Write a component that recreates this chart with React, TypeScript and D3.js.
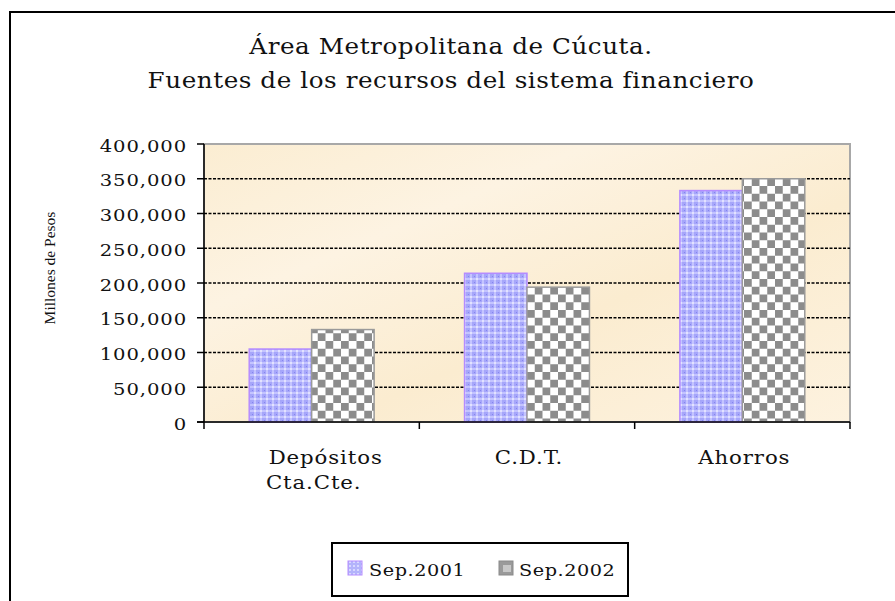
import React from "react";
import * as d3 from "d3";

const categories = ["Depósitos Cta.Cte.", "C.D.T.", "Ahorros"];
const categoryLines = [["Depósitos", "Cta.Cte."], ["C.D.T."], ["Ahorros"]];
const seriesNames = ["Sep.2001", "Sep.2002"];
const sep2001 = [105000, 214000, 333000];
const sep2002 = [133000, 194000, 350000];
const yTicks = [0, 50000, 100000, 150000, 200000, 250000, 300000, 350000, 400000];
const titleLines = ["Área Metropolitana de Cúcuta.", "Fuentes de los recursos del sistema financiero"];

const W = 895;
const H = 601;
const plot = { left: 204, right: 850, top: 144, bottom: 422 };
const serif = "'DejaVu Serif', serif";

function WideText(props: { x: number; y: number; anchor?: string; size: number; sx: number; ls: number; children: React.ReactNode }) {
  const { x, y, anchor = "start", size, sx, ls, children } = props;
  return (
    <text transform={`translate(${x},${y}) scale(${sx},1)`} textAnchor={anchor} fontFamily={serif} fontSize={size} letterSpacing={ls} fill="#111">
      {children}
    </text>
  );
}

export default function App() {
  const x = d3.scaleBand<string>().domain(categories).range([plot.left, plot.right]).paddingInner(0.42).paddingOuter(0.21);
  const x1 = d3.scaleBand<string>().domain(seriesNames).range([0, x.bandwidth()]);
  const y = d3.scaleLinear().domain([0, 400000]).range([plot.bottom, plot.top]);
  const fmt = d3.format(",");
  const series = [sep2001, sep2002];
  const fills = ["url(#bluePat)", "url(#checkPat)"];
  const strokes = ["#b58cff", "#9a9a9a"];
  const bandStep = (plot.right - plot.left) / categories.length;

  return (
    <svg width={W} height={H} style={{ position: "absolute", left: 0, top: 0, background: "#fff" }}>
      <defs>
        <linearGradient id="bg" x1="0" y1="0" x2="1" y2="1">
          <stop offset="0" stopColor="#fbedd2" />
          <stop offset="0.3" stopColor="#fdf3e2" />
          <stop offset="0.6" stopColor="#fbecd0" />
          <stop offset="1" stopColor="#fdf2df" />
        </linearGradient>
        <pattern id="bluePat" width="6" height="6" patternUnits="userSpaceOnUse">
          <rect width="6" height="6" fill="#a6a6fa" />
          <rect x="2" y="0" width="2" height="6" fill="#c4c4ff" />
          <rect x="0" y="2" width="6" height="2" fill="#c4c4ff" />
          <rect x="2" y="2" width="2" height="2" fill="#e2e2ff" />
          <rect x="0" y="0" width="1" height="1" fill="#8585ee" />
        </pattern>
        <pattern id="checkPat" width="15.5" height="15.5" patternUnits="userSpaceOnUse">
          <rect width="15.5" height="15.5" fill="#ffffff" />
          <rect x="0" y="0" width="7.75" height="7.75" fill="#8c8c8c" />
          <rect x="7.75" y="7.75" width="7.75" height="7.75" fill="#8c8c8c" />
        </pattern>
        <pattern id="bluePatL" width="4" height="4" patternUnits="userSpaceOnUse">
          <rect width="4" height="4" fill="#b3b3fb" />
          <rect x="1" y="1" width="2" height="2" fill="#d8d8ff" />
        </pattern>
      </defs>

      {/* outer frame */}
      <rect x={10} y={12} width={W + 20} height={H + 20} fill="#fff" stroke="#000" strokeWidth={2} />

      {/* title */}
      {titleLines.map((t, i) => (
        <WideText key={i} x={451} y={54 + i * 34} anchor="middle" size={22} sx={1.12} ls={0.5}>
          {t}
        </WideText>
      ))}

      {/* plot background */}
      <rect x={plot.left} y={plot.top} width={plot.right - plot.left} height={plot.bottom - plot.top} fill="url(#bg)" stroke="#a8a8a8" strokeWidth={2} />

      {/* gridlines */}
      {yTicks.filter((v) => v > 0 && v < 400000).map((v) => (
        <line key={v} x1={plot.left} x2={plot.right} y1={y(v)} y2={y(v)} stroke="#000" strokeWidth={1.3} strokeDasharray="3,1.5" />
      ))}

      {/* bars */}
      {categories.map((c, ci) => (
        <g key={c}>
          {series.map((s, si) => (
            <rect
              key={si}
              x={(x(c) as number) + (x1(seriesNames[si]) as number)}
              y={y(s[ci])}
              width={x1.bandwidth()}
              height={y(0) - y(s[ci])}
              fill={fills[si]}
              stroke={strokes[si]}
              strokeWidth={1.5}
            />
          ))}
        </g>
      ))}

      {/* y axis */}
      <line x1={plot.left} x2={plot.left} y1={plot.top} y2={plot.bottom} stroke="#000" strokeWidth={1.5} />
      {yTicks.map((v) => (
        <g key={v}>
          <line x1={plot.left - 7} x2={plot.left} y1={y(v)} y2={y(v)} stroke="#000" strokeWidth={1.5} />
          <WideText x={187} y={y(v) + 7.5} anchor="end" size={17.5} sx={1.12} ls={0.8}>
            {fmt(v)}
          </WideText>
        </g>
      ))}

      {/* x axis */}
      <line x1={plot.left - 7} x2={plot.right} y1={plot.bottom} y2={plot.bottom} stroke="#000" strokeWidth={1.5} />
      {d3.range(categories.length + 1).map((i) => (
        <line key={i} x1={plot.left + i * bandStep} x2={plot.left + i * bandStep} y1={plot.bottom} y2={plot.bottom + 7} stroke="#000" strokeWidth={1.5} />
      ))}
      {categories.map((c, ci) => {
        const cx = (x(c) as number) + x.bandwidth() / 2;
        const lines = categoryLines[ci];
        return (
          <g key={c}>
            {lines.map((l, li) => (
              <WideText key={li} x={cx + (lines.length > 1 && li === 0 ? 14 : 2)} y={464 + li * 25} anchor="middle" size={19} sx={1.12} ls={0.8}>
                {l}
              </WideText>
            ))}
          </g>
        );
      })}

      {/* y axis title */}
      <text transform={`translate(55,${268}) rotate(-90)`} textAnchor="middle" fontFamily="'Liberation Serif', serif" fontSize={15.5} fill="#111">
        Millones de Pesos
      </text>

      {/* legend */}
      <rect x={332} y={543} width={296} height={53} fill="#fff" stroke="#000" strokeWidth={2} />
      <rect x={348} y={561} width={14} height={14} fill="url(#bluePatL)" stroke="#b58cff" strokeWidth={1} />
      <WideText x={369} y={576} size={17.5} sx={1.1} ls={0.5}>{seriesNames[0]}</WideText>
      <rect x={499} y={561} width={14} height={14} fill="#9a9a9a" stroke="#8a8a8a" strokeWidth={1} />
      <rect x={503} y={565} width={8} height={7} fill="#c8c8c8" />
      <WideText x={519} y={576} size={17.5} sx={1.1} ls={0.5}>{seriesNames[1]}</WideText>
    </svg>
  );
}
